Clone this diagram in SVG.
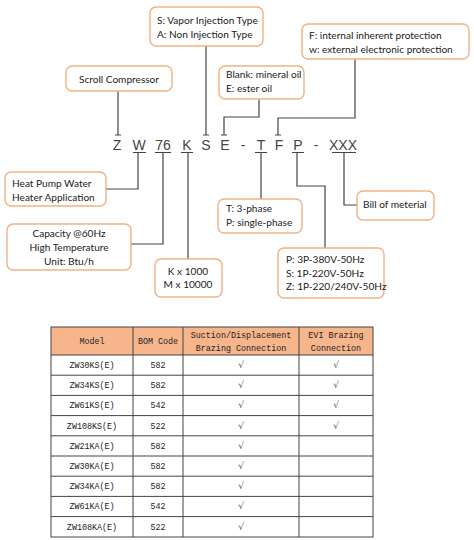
<svg xmlns="http://www.w3.org/2000/svg" width="474" height="540" viewBox="0 0 474 540">
<style>
.box{fill:#fff;stroke:#F2B183;stroke-width:1.4}
.bt{font-family:Lato,"Liberation Sans",sans-serif;font-size:10.1px;fill:#222}
.code{font-family:"Liberation Sans",Arial,sans-serif;font-size:14px;fill:#444;text-anchor:middle}
.ln{fill:none;stroke:#444;stroke-width:1.2}
.tt{font-family:"Liberation Mono","Noto Sans CJK SC",monospace;font-size:8.4px;fill:#222;text-anchor:middle}
.ck{font-family:"DejaVu Sans",sans-serif;font-size:9px;fill:#555;text-anchor:middle;font-style:italic}
.grid{stroke:#444;stroke-width:1;fill:none}
</style>
<rect width="474" height="540" fill="#fff"/>

<g id="code-row">
<text class="code" x="117" y="150">Z</text>
<text class="code" x="139" y="150">W</text>
<text class="code" x="163" y="150">76</text>
<text class="code" x="187" y="150">K</text>
<text class="code" x="206" y="150">S</text>
<text class="code" x="225" y="150">E</text>
<text class="code" x="243" y="150">-</text>
<text class="code" x="261" y="150">T</text>
<text class="code" x="279" y="150">F</text>
<text class="code" x="298" y="150">P</text>
<text class="code" x="316" y="150">-</text>
<text class="code" x="343" y="150">XXX</text>
<path class="ln" d="M133 152.5h13M155 152.5h16M181 152.5h12M255 152.5h12M292 152.5h12M332 152.5h24" stroke-width="1"/>
</g>

<g id="connectors">
<path class="ln" d="M118 91V135M115 135h6"/>
<path class="ln" d="M206 46V135M203 135h6"/>
<path class="ln" d="M259 99V117H224V135M221 135h6"/>
<path class="ln" d="M355 59V118H278V135M275 135h6"/>
<path class="ln" d="M138 153V189H106"/>
<path class="ln" d="M163 153V244H131"/>
<path class="ln" d="M188 153V259"/>
<path class="ln" d="M261 153V199"/>
<path class="ln" d="M297 153V186H325V248"/>
<path class="ln" d="M344 153V205H357"/>
</g>

<g id="node-scroll">
<rect class="box" x="66" y="66" width="106" height="25" rx="6"/>
<text class="bt" x="119" y="83" text-anchor="middle">Scroll Compressor</text>
</g>
<g id="node-injection">
<rect class="box" x="150" y="7" width="113" height="39" rx="6"/>
<text class="bt" x="157" y="24">S: Vapor Injection Type</text>
<text class="bt" x="157" y="38">A: Non Injection Type</text>
</g>
<g id="node-oil">
<rect class="box" x="219" y="66" width="85" height="33" rx="6"/>
<text class="bt" x="226" y="78">Blank: mineral oil</text>
<text class="bt" x="226" y="92">E: ester oil</text>
</g>
<g id="node-protection">
<rect class="box" x="302" y="24" width="167" height="35" rx="6"/>
<text class="bt" x="309" y="39">F: internal inherent protection</text>
<text class="bt" x="309" y="53">w: external electronic protection</text>
</g>
<g id="node-heatpump">
<rect class="box" x="5" y="172" width="101" height="34" rx="6"/>
<text class="bt" x="12" y="187">Heat Pump Water</text>
<text class="bt" x="12" y="201">Heater Application</text>
</g>
<g id="node-capacity">
<rect class="box" x="7" y="224" width="124" height="46" rx="6"/>
<text class="bt" x="69" y="237" text-anchor="middle">Capacity @60Hz</text>
<text class="bt" x="69" y="251" text-anchor="middle">High Temperature</text>
<text class="bt" x="69" y="265" text-anchor="middle">Unit: Btu/h</text>
</g>
<g id="node-multiplier">
<rect class="box" x="155" y="259" width="67" height="38" rx="6"/>
<text class="bt" x="188" y="275" text-anchor="middle">K x 1000</text>
<text class="bt" x="188" y="288" text-anchor="middle">M x 10000</text>
</g>
<g id="node-phase">
<rect class="box" x="218" y="199" width="84" height="34" rx="6"/>
<text class="bt" x="226" y="212">T: 3-phase</text>
<text class="bt" x="226" y="226">P: single-phase</text>
</g>
<g id="node-power">
<rect class="box" x="278" y="248" width="106" height="50" rx="6"/>
<text class="bt" x="286" y="263">P: 3P-380V-50Hz</text>
<text class="bt" x="286" y="277">S: 1P-220V-50Hz</text>
<text class="bt" x="286" y="290">Z: 1P-220/240V-50Hz</text>
</g>
<g id="node-bom">
<rect class="box" x="357" y="191" width="77" height="29" rx="6"/>
<text class="bt" x="363" y="208">Bill of meterial</text>
</g>

<g id="table">
<rect x="51" y="327" width="322" height="28" fill="#F7B58C"/>
<rect class="grid" x="51" y="327" width="322" height="210" stroke-width="1.3"/>
<path class="grid" d="M133 327V537M183 327V537M299 327V537"/>
<path class="grid" d="M51 355H373M51 375.2H373M51 395.4H373M51 415.6H373M51 435.8H373M51 456H373M51 476.2H373M51 496.4H373M51 516.6H373"/>
<text class="tt" x="92" y="344">Model</text>
<text class="tt" x="158" y="344">BOM Code</text>
<text class="tt" x="241" y="338">Suction/Displacement</text>
<text class="tt" x="241" y="351">Brazing Connection</text>
<text class="tt" x="336" y="338">EVI Brazing</text>
<text class="tt" x="336" y="351">Connection</text>
<g>
<text class="tt" x="92" y="368">ZW30KS(E)</text><text class="tt" x="158" y="368">582</text>
<text class="tt" x="92" y="388.2">ZW34KS(E)</text><text class="tt" x="158" y="388.2">582</text>
<text class="tt" x="92" y="408.4">ZW61KS(E)</text><text class="tt" x="158" y="408.4">542</text>
<text class="tt" x="92" y="428.6">ZW108KS(E)</text><text class="tt" x="158" y="428.6">522</text>
<text class="tt" x="92" y="448.8">ZW21KA(E)</text><text class="tt" x="158" y="448.8">582</text>
<text class="tt" x="92" y="469">ZW30KA(E)</text><text class="tt" x="158" y="469">582</text>
<text class="tt" x="92" y="489.2">ZW34KA(E)</text><text class="tt" x="158" y="489.2">582</text>
<text class="tt" x="92" y="509.4">ZW61KA(E)</text><text class="tt" x="158" y="509.4">542</text>
<text class="tt" x="92" y="529.6">ZW108KA(E)</text><text class="tt" x="158" y="529.6">522</text>
</g>
<g>
<text class="ck" x="241" y="368">√</text><text class="ck" x="336" y="368">√</text>
<text class="ck" x="241" y="388.2">√</text><text class="ck" x="336" y="388.2">√</text>
<text class="ck" x="241" y="408.4">√</text><text class="ck" x="336" y="408.4">√</text>
<text class="ck" x="241" y="428.6">√</text><text class="ck" x="336" y="428.6">√</text>
<text class="ck" x="241" y="448.8">√</text>
<text class="ck" x="241" y="469">√</text>
<text class="ck" x="241" y="489.2">√</text>
<text class="ck" x="241" y="509.4">√</text>
<text class="ck" x="241" y="529.6">√</text>
</g>
</g>
</svg>
